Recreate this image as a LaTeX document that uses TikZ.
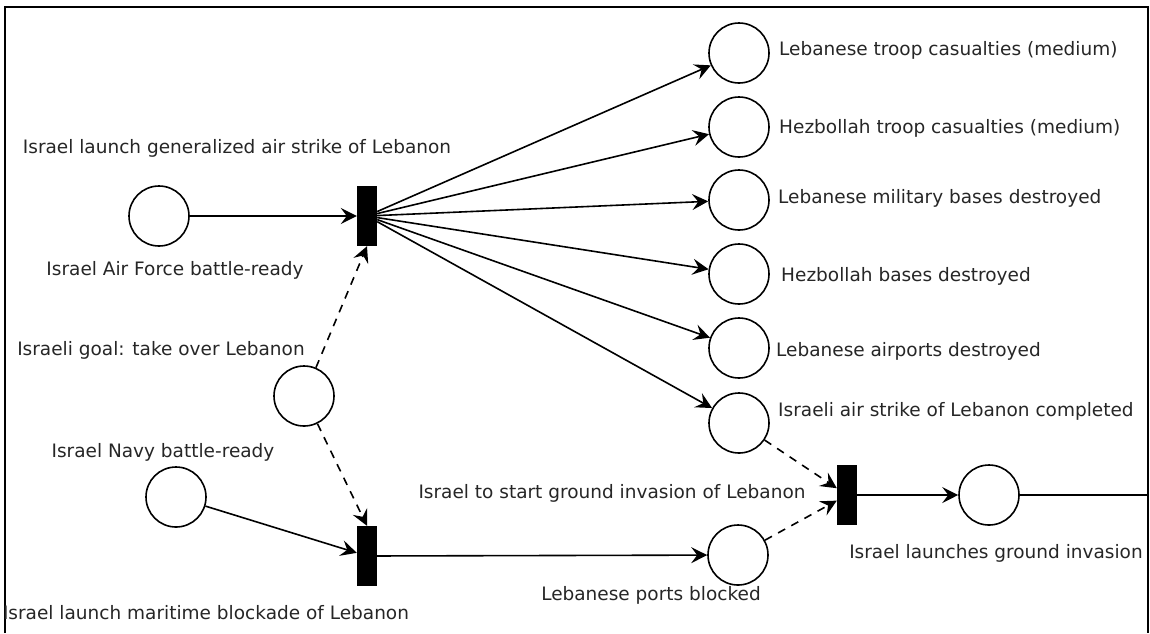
\documentclass[tikz,border=0pt]{standalone}
\usepackage{fontspec}
\setmainfont{DejaVu Sans}
\usepackage{tikz}
\usetikzlibrary{arrows.meta, positioning, calc}

\begin{document}
\begin{tikzpicture}[
    x=1pt, y=-1pt,
    place/.style={circle, draw, line width=1.6pt, minimum size=60pt, inner sep=0pt},
    trans/.style={rectangle, fill=black, minimum width=20pt, minimum height=60pt, inner sep=0pt},
    lbl/.style={font=\fontsize{18.5}{20}\selectfont, text=black!85, inner sep=0pt},
    arc/.style={line width=1.6pt, -{Stealth[length=16pt, width=16pt, inset=6pt]}},
    inhib/.style={arc, dash pattern=on 8pt off 7pt},
    ]
\useasboundingbox (0,0) rectangle (1150,633);
\draw[line width=2pt] (5,633) -- (5,7) -- (1148,7) -- (1148,633);

% Places
\node[place] (air) at (159,216) {};
\node[place] (goal) at (304,396) {};
\node[place] (navy) at (176,497) {};
\node[place] (leb1) at (739,53) {};
\node[place] (hez1) at (739,127) {};
\node[place] (leb2) at (739,200) {};
\node[place] (hez2) at (739,274) {};
\node[place] (ports) at (739,348) {};
\node[place] (done) at (739,423) {};
\node[place] (block) at (738,555) {};
\node[place] (ground) at (989,495) {};

% Transitions
\node[trans] (strike) at (367,216) {};
\node[trans] (sea) at (367,556) {};
\node[trans] (invade) at (847,495) {};
\coordinate (exit) at (1148,495);

% Labels
\node[lbl] at (237,148) {Israel launch generalized air strike of Lebanon};
\node[lbl] at (175,270) {Israel Air Force battle-ready};
\node[lbl] at (161,350) {Israeli goal: take over Lebanon};
\node[lbl] at (163,452) {Israel Navy battle-ready};
\node[lbl] at (206,613) {Israel launch maritime blockade of Lebanon};
\node[lbl, anchor=west] at (779,50) {Lebanese troop casualties (medium)};
\node[lbl, anchor=west] at (779,128) {Hezbollah troop casualties (medium)};
\node[lbl, anchor=west] at (778,198) {Lebanese military bases destroyed};
\node[lbl, anchor=west] at (781,276) {Hezbollah bases destroyed};
\node[lbl, anchor=west] at (776,351) {Lebanese airports destroyed};
\node[lbl, anchor=west] at (778,411) {Israeli air strike of Lebanon completed};
\node[lbl] at (612,493) {Israel to start ground invasion of Lebanon};
\node[lbl] at (651,595) {Lebanese ports blocked};
\node[lbl] at (996,553) {Israel launches ground invasion};

% Arcs
\draw[arc] (air) -- (strike);
\draw[inhib] (goal) -- (strike.south);
\draw[inhib] (goal) -- (sea.north);
\draw[arc] (navy) -- (sea);
\foreach \p in {leb1, hez1, leb2, hez2, ports, done}
    \draw[arc] (strike) -- (\p);
\draw[arc] (sea) -- (block);
\draw[inhib] (done) -- (invade);
\draw[inhib] (block) -- (invade);
\draw[arc] (invade) -- (ground);
\draw[line width=1.6pt] (ground) -- (exit);

\end{tikzpicture}
\end{document}
